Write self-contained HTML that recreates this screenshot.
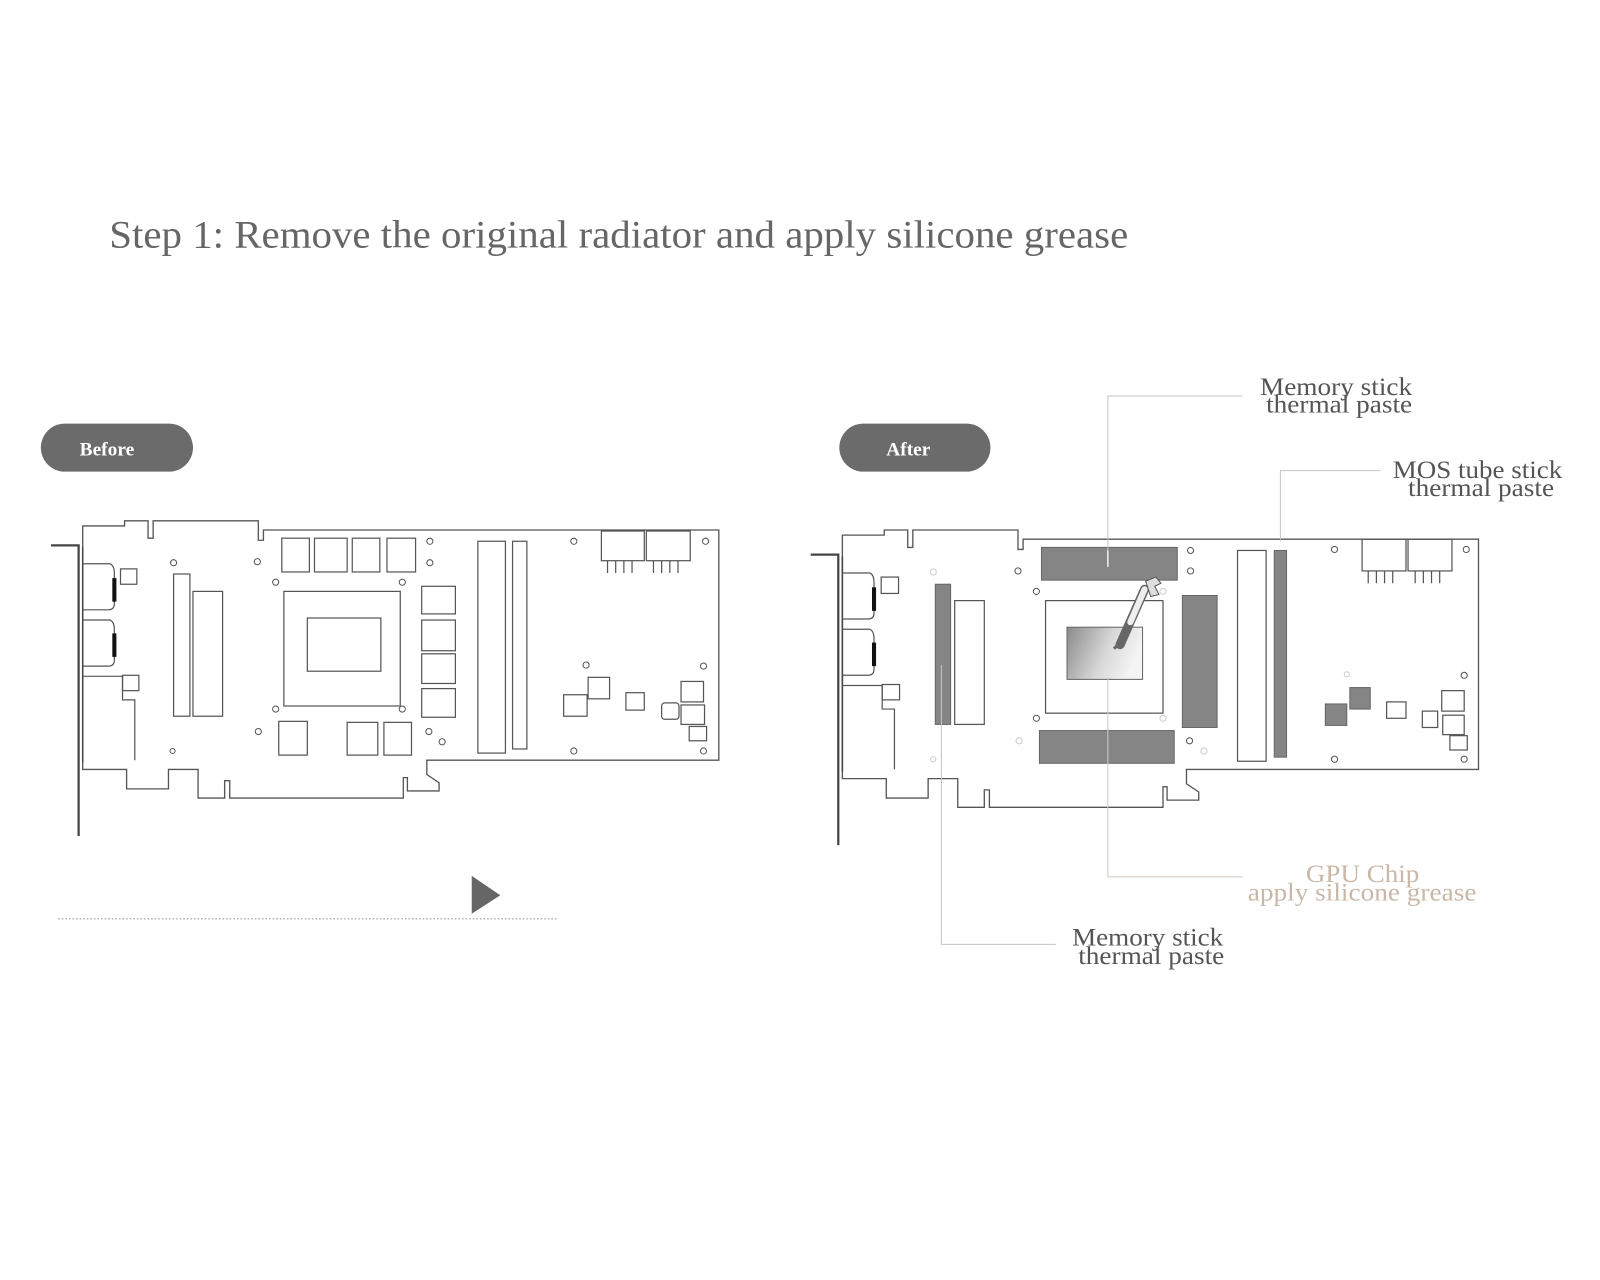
<!DOCTYPE html>
<html><head><meta charset="utf-8"><style>
html,body{margin:0;padding:0;background:#fff;width:1600px;height:1280px;overflow:hidden}
svg{display:block}
text{font-family:"Liberation Serif",serif}
</style></head><body>
<svg width="1600" height="1280" viewBox="0 0 1567 1251" preserveAspectRatio="none">
<defs>
<linearGradient id="gg" x1="0" y1="0" x2="1" y2="0.3">
<stop offset="0" stop-color="#8a8a8a"/><stop offset="0.6" stop-color="#d8d8d8"/><stop offset="1" stop-color="#f4f4f4"/>
</linearGradient>
<g id="board">
<path d="M81,514 H122 V509 H145 V526 H150 V509 H253 V528 H258 V518 H704 V743 H418 V757 L430,765 V773 H399 V760 H395 V780 H225 V763 H220 V780 H194 V752 H165 V771 H124 V752 H81 Z" fill="none" stroke="#555" stroke-width="1.3"/>
<path d="M50,533 H77 V817" fill="none" stroke="#444" stroke-width="2.2"/>
<path d="M81,535 V745" stroke="#444" stroke-width="1.5" fill="none"/>
<g fill="none" stroke="#555" stroke-width="1.2">
<path d="M81,551 H108 Q112,553 112,560 V590 Q112,596 106,596 H81"/>
<path d="M81,606 H108 Q112,608 112,615 V645 Q112,651 106,651 H81"/>
<path d="M81,661 H120 V684 H132 V743"/>
</g>
<rect x="110" y="565" width="4" height="23" fill="#111"/>
<rect x="110" y="619" width="4" height="23" fill="#111"/>
</g>
</defs>

<text x="107" y="242" font-size="38" fill="#666" textLength="998" lengthAdjust="spacingAndGlyphs">Step 1: Remove the original radiator and apply silicone grease</text>

<rect x="40" y="414" width="149" height="47" rx="23.5" fill="#6b6b6b"/>
<text x="78" y="445" font-size="19" font-weight="bold" fill="#fff">Before</text>
<rect x="822" y="414" width="148" height="47" rx="23.5" fill="#6b6b6b"/>
<text x="868" y="445" font-size="19" font-weight="bold" fill="#fff">After</text>

<!-- BEFORE board -->
<use href="#board"/>
<g fill="none" stroke="#555" stroke-width="1.2">
<rect x="118" y="556" width="16" height="15"/>
<rect x="120" y="660" width="16" height="15"/>
<rect x="170" y="561" width="16" height="139"/>
<rect x="189" y="578" width="29" height="122"/>
<rect x="276" y="526" width="27" height="33"/><rect x="308" y="526" width="32" height="33"/><rect x="345" y="526" width="27" height="33"/><rect x="379" y="526" width="28" height="33"/>
<rect x="278" y="578" width="114" height="112"/>
<rect x="301" y="604" width="72" height="52"/>
<rect x="413" y="573" width="33" height="27"/><rect x="413" y="606" width="33" height="30"/><rect x="413" y="639" width="33" height="29"/><rect x="413" y="673" width="33" height="28"/>
<rect x="273" y="705" width="28" height="33"/><rect x="340" y="706" width="30" height="32"/><rect x="376" y="706" width="27" height="32"/>
<rect x="468" y="529" width="27" height="207"/>
<rect x="502" y="529" width="14" height="203"/>
<rect x="589" y="519" width="42" height="29"/><rect x="633" y="519" width="43" height="29"/>
<path d="M595,548v12M603,548v12M611,548v12M619,548v12M640,548v12M648,548v12M656,548v12M664,548v12"/>
<rect x="552" y="679" width="23" height="21"/><rect x="576" y="662" width="21" height="21"/><rect x="613" y="677" width="18" height="17"/>
<rect x="648" y="687" width="17" height="16" rx="3"/><rect x="667" y="666" width="22" height="20"/><rect x="667" y="689" width="23" height="19"/><rect x="675" y="710" width="17" height="14"/>
</g>
<g fill="none" stroke="#555" stroke-width="1">
<circle cx="170" cy="550" r="3"/><circle cx="252" cy="549" r="3"/><circle cx="270" cy="569" r="3"/><circle cx="394" cy="569" r="3"/><circle cx="421" cy="529" r="3"/><circle cx="421" cy="550" r="3"/><circle cx="562" cy="529" r="3"/><circle cx="691" cy="529" r="3"/><circle cx="574" cy="650" r="3"/><circle cx="689" cy="651" r="3"/><circle cx="270" cy="693" r="3"/><circle cx="394" cy="693" r="3"/><circle cx="253" cy="715" r="3"/><circle cx="420" cy="715" r="3"/><circle cx="433" cy="725" r="3"/><circle cx="169" cy="734" r="2.5"/><circle cx="562" cy="734" r="3"/><circle cx="689" cy="734" r="3"/>
</g>

<polygon points="462,856 490,875 462,893" fill="#666"/>
<line x1="57" y1="898" x2="547" y2="898" stroke="#999" stroke-width="1.2" stroke-dasharray="1.5,2"/>

<!-- AFTER board -->
<g transform="translate(7,2)">
<use href="#board" transform="translate(737,7)"/>
<g fill="none" stroke="#555" stroke-width="1.2">
<rect x="856" y="562" width="17" height="16"/>
<rect x="857" y="667" width="17" height="15"/>
<rect x="928" y="585" width="29" height="121"/>
<rect x="1017" y="585" width="115" height="110"/>
<rect x="1205" y="536" width="28" height="206"/>
<rect x="1327" y="525" width="43" height="31"/><rect x="1372" y="525" width="43" height="31"/>
<path d="M1333,556v12M1341,556v12M1349,556v12M1357,556v12M1379,556v12M1387,556v12M1395,556v12M1403,556v12"/>
<rect x="1351" y="684" width="19" height="16"/><rect x="1405" y="673" width="22" height="20"/><rect x="1386" y="693" width="15" height="16"/><rect x="1406" y="697" width="21" height="19"/><rect x="1413" y="717" width="17" height="14"/>
</g>
<g fill="#858585" stroke="#666" stroke-width="1">
<rect x="1013" y="533" width="133" height="32"/>
<rect x="1011" y="712" width="132" height="32"/>
<rect x="1151" y="580" width="34" height="129"/>
<rect x="909" y="569" width="15" height="137"/>
<rect x="1241" y="536" width="12" height="202"/>
<rect x="1315" y="670" width="20" height="21"/>
<rect x="1291" y="686" width="21" height="21"/>
</g>
<rect x="1038" y="611" width="74" height="51" fill="url(#gg)" stroke="#666" stroke-width="1"/>
<g fill="none" stroke="#ccc" stroke-width="1">
<circle cx="907" cy="557" r="3"/><circle cx="1132" cy="576" r="3"/><circle cx="1312" cy="657" r="2.5"/><circle cx="1132" cy="700" r="3"/><circle cx="991" cy="722" r="3"/><circle cx="1172" cy="732" r="3"/><circle cx="907" cy="740" r="2.5"/>
</g>
<g stroke="#555" stroke-width="1" fill="none"><circle cx="1159" cy="536" r="3"/><circle cx="1159" cy="556" r="3"/><circle cx="990" cy="556" r="3"/><circle cx="1008" cy="576" r="3"/><circle cx="1300" cy="535" r="3"/><circle cx="1429" cy="535" r="3"/><circle cx="1427" cy="658" r="3"/><circle cx="1008" cy="700" r="3"/><circle cx="1158" cy="722" r="3"/><circle cx="1300" cy="740" r="3"/><circle cx="1427" cy="740" r="3"/></g>
<line x1="1114" y1="574" x2="1090" y2="628" stroke="#666" stroke-width="9" stroke-linecap="round"/>
<line x1="1114" y1="574" x2="1100" y2="606" stroke="#eee" stroke-width="6" stroke-linecap="round"/>
<line x1="1084" y1="632" x2="1090" y2="626" stroke="#666" stroke-width="3"/>
<path d="M1115,566 l10,-4 l5,6 l-6,3 l4,8 l-8,2 z" fill="#ddd" stroke="#555" stroke-width="1"/>
</g>

<!-- callouts -->
<g stroke="#c4c4c4" stroke-width="1" fill="none">
<path d="M1085,552 V387 H1217"/>
<path d="M1254,529 V460 H1352"/>
<path d="M1085,662 V857 H1217" stroke="#d5c8bc"/>
<path d="M922,650 V923 H1034"/>
</g>
<line x1="1085" y1="538" x2="1085" y2="554" stroke="#eee" stroke-width="1.5"/>
<g font-size="25" fill="#555">
<text x="1234" y="386" textLength="149" lengthAdjust="spacingAndGlyphs">Memory stick</text>
<text x="1240" y="403" textLength="143" lengthAdjust="spacingAndGlyphs">thermal paste</text>
<text x="1364" y="467" textLength="166" lengthAdjust="spacingAndGlyphs">MOS tube stick</text>
<text x="1379" y="485" textLength="143" lengthAdjust="spacingAndGlyphs">thermal paste</text>
<text x="1050" y="924" textLength="148" lengthAdjust="spacingAndGlyphs">Memory stick</text>
<text x="1056" y="942" textLength="143" lengthAdjust="spacingAndGlyphs">thermal paste</text>
</g>
<g font-size="25" fill="#c9b8a8">
<text x="1279" y="862" textLength="111" lengthAdjust="spacingAndGlyphs">GPU Chip</text>
<text x="1222" y="880" textLength="224" lengthAdjust="spacingAndGlyphs">apply silicone grease</text>
</g>
</svg>
</body></html>
